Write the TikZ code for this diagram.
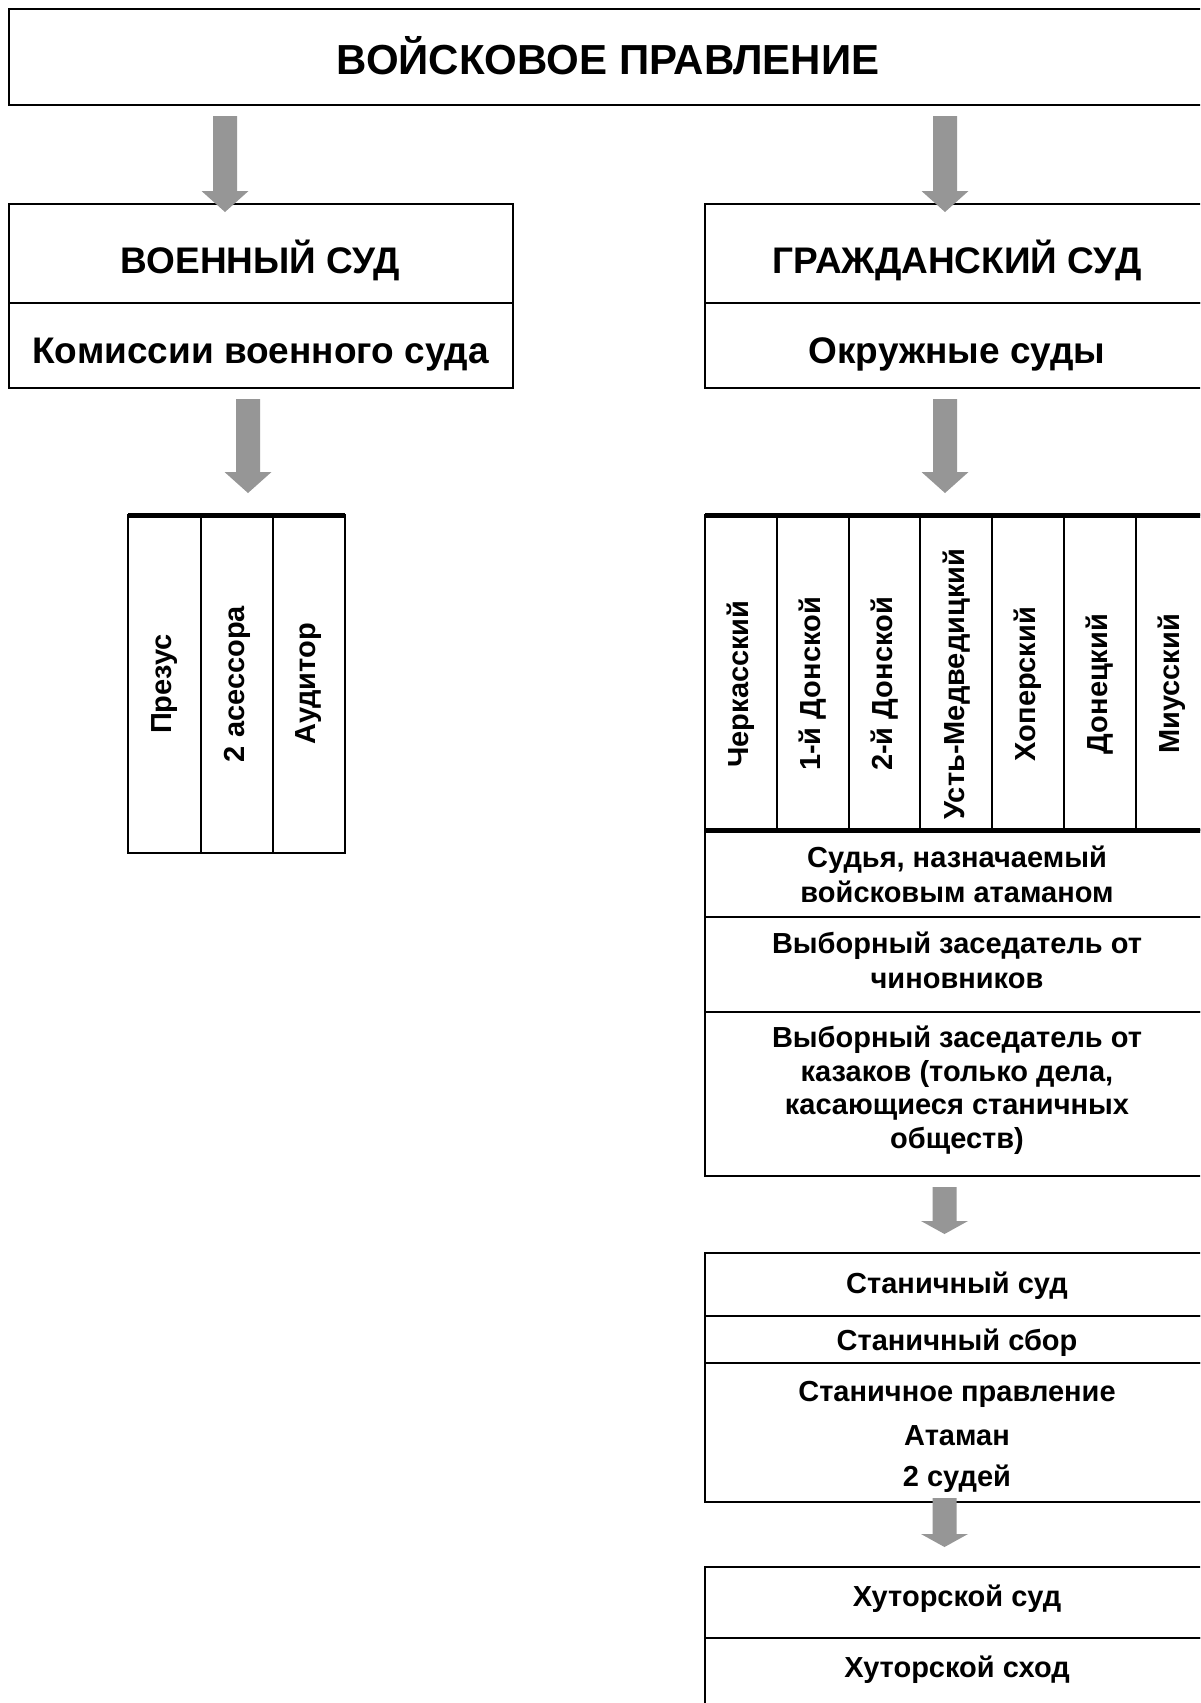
\documentclass[tikz,border=0pt]{standalone}
\usepackage{fontspec}
\setmainfont{Liberation Sans}
\usetikzlibrary{calc}
\definecolor{argray}{RGB}{150,150,150}
\newcommand\blockarrow[3]{%
  \fill[argray] ($(#1)+(-12,0)$) -- ($(#1)+(12,0)$) -- ($(#2)+(12,-#3)$) -- ($(#2)+(23.5,-#3)$) -- (#2) -- ($(#2)+(-23.5,-#3)$) -- ($(#2)+(-12,-#3)$) -- cycle;}
\begin{document}
\begin{tikzpicture}[x=1pt,y=-1pt,
  frame/.style={draw=black, line width=2pt, inner sep=0pt, outer sep=0pt, anchor=north west},
  heavyline/.style={draw=black, line width=5pt},
  txt/.style={font=\bfseries\fontsize{29}{34}\selectfont, inner sep=0pt, anchor=base},
  midtxt/.style={txt, font=\bfseries\fontsize{37}{44}\selectfont},
  bigtxt/.style={txt, font=\bfseries\fontsize{42}{50}\selectfont},
  rottxt/.style={font=\bfseries\fontsize{29}{34}\selectfont, inner sep=0pt, anchor=center, rotate=90}]
\useasboundingbox (0,0) rectangle (1200,1703);
\clip (0,0) rectangle (1200,1703);
\fill[white] (0,0) rectangle (1200,1703);
% frames
\node[frame, minimum width=1206pt, minimum height=96.3pt] (top) at (8.7,8.7) {};
\node[frame, minimum width=504pt, minimum height=99pt] (voenA) at (8.7,204) {};
\node[frame, minimum width=504pt, minimum height=85pt] (voenB) at (8.7,303) {};
\node[frame, minimum width=510pt, minimum height=99pt] (grA) at (705,204) {};
\node[frame, minimum width=510pt, minimum height=85pt] (grB) at (705,303) {};
% left table
\node[frame, minimum width=73pt, minimum height=338pt] (lc1) at (128,515) {};
\node[frame, minimum width=72pt, minimum height=338pt] (lc2) at (201,515) {};
\node[frame, minimum width=72pt, minimum height=338pt] (lc3) at (273,515) {};
% right table columns
\foreach \k in {0,...,6}{
  \node[frame, minimum width=71.8pt, minimum height=315pt] (rc\k) at (705+71.8*\k,515) {};
}
\node[frame, minimum width=510pt, minimum height=87pt] (row1) at (705,830) {};
\node[frame, minimum width=510pt, minimum height=95pt] (row2) at (705,917) {};
\node[frame, minimum width=510pt, minimum height=164pt] (row3) at (705,1012) {};
\node[frame, minimum width=510pt, minimum height=63pt] (st1) at (705,1253) {};
\node[frame, minimum width=510pt, minimum height=47pt] (st2) at (705,1316) {};
\node[frame, minimum width=510pt, minimum height=139pt] (st3) at (705,1363) {};
\node[frame, minimum width=510pt, minimum height=71pt] (kh1) at (705,1567) {};
\node[frame, minimum width=510pt, minimum height=110pt] (kh2) at (705,1638) {};
% heavy lines
\draw[heavyline] (lc1.north west) -- (lc3.north east);
\draw[heavyline] (rc0.north west) -- (rc6.north east);
\draw[heavyline] (rc0.south west) -- (rc6.south east);
% texts
\node[bigtxt] (tTitle) at (608,74) {ВОЙСКОВОЕ ПРАВЛЕНИЕ};
\node[midtxt] (tVoen) at (260.6,273) {ВОЕННЫЙ СУД};
\node[midtxt] (tKom) at (260.6,363) {Комиссии военного суда};
\node[midtxt] (tGr) at (957,273) {ГРАЖДАНСКИЙ СУД};
\node[midtxt] (tOkr) at (957,363) {Окружные суды};
\node[rottxt] (tPr) at (lc1.center |- 0,684) {Презус};
\node[rottxt] (tAs) at (lc2.center |- 0,684) {2 асессора};
\node[rottxt] (tAu) at (lc3.center |- 0,684) {Аудитор};
\node[rottxt] (d0) at (rc0.center |- 0,684) {Черкасский};
\node[rottxt] (d1) at (rc1.center |- 0,684) {1-й Донской};
\node[rottxt] (d2) at (rc2.center |- 0,684) {2-й Донской};
\node[rottxt] (d3) at (rc3.center |- 0,684) {Усть-Медведицкий};
\node[rottxt] (d4) at (rc4.center |- 0,684) {Хоперский};
\node[rottxt] (d5) at (rc5.center |- 0,684) {Донецкий};
\node[rottxt] (d6) at (rc6.center |- 0,684) {Миусский};
\node[txt] (r1a) at (957,867) {Судья, назначаемый};
\node[txt] (r1b) at (957,902) {войсковым атаманом};
\node[txt] (r2a) at (957,953) {Выборный заседатель от};
\node[txt] (r2b) at (957,988) {чиновников};
\node[txt] (r3a) at (957,1047) {Выборный заседатель от};
\node[txt] (r3b) at (957,1081) {казаков (только дела,};
\node[txt] (r3c) at (957,1114) {касающиеся станичных};
\node[txt] (r3d) at (957,1148) {обществ)};
\node[txt] (s1) at (957,1293) {Станичный суд};
\node[txt] (s2) at (957,1350) {Станичный сбор};
\node[txt] (s3a) at (957,1401) {Станичное правление};
\node[txt] (s3b) at (957,1445) {Атаман};
\node[txt] (s3c) at (957,1486) {2 судей};
\node[txt] (k1) at (957,1606) {Хуторской суд};
\node[txt] (k2) at (957,1677) {Хуторской сход};
% arrows
\coordinate (a1s) at (225,116); \coordinate (a1e) at (225,212);
\coordinate (a2s) at (945,116); \coordinate (a2e) at (945,212);
\coordinate (a3s) at (248,399); \coordinate (a3e) at (248,493);
\coordinate (a4s) at (945,399); \coordinate (a4e) at (945,493);
\coordinate (a5s) at (944.5,1187); \coordinate (a5e) at (944.5,1234);
\coordinate (a6s) at (944.5,1498); \coordinate (a6e) at (944.5,1547);
\blockarrow{a1s}{a1e}{21}
\blockarrow{a2s}{a2e}{21}
\blockarrow{a3s}{a3e}{21}
\blockarrow{a4s}{a4e}{21}
\blockarrow{a5s}{a5e}{13}
\blockarrow{a6s}{a6e}{13}
\end{tikzpicture}
\end{document}
